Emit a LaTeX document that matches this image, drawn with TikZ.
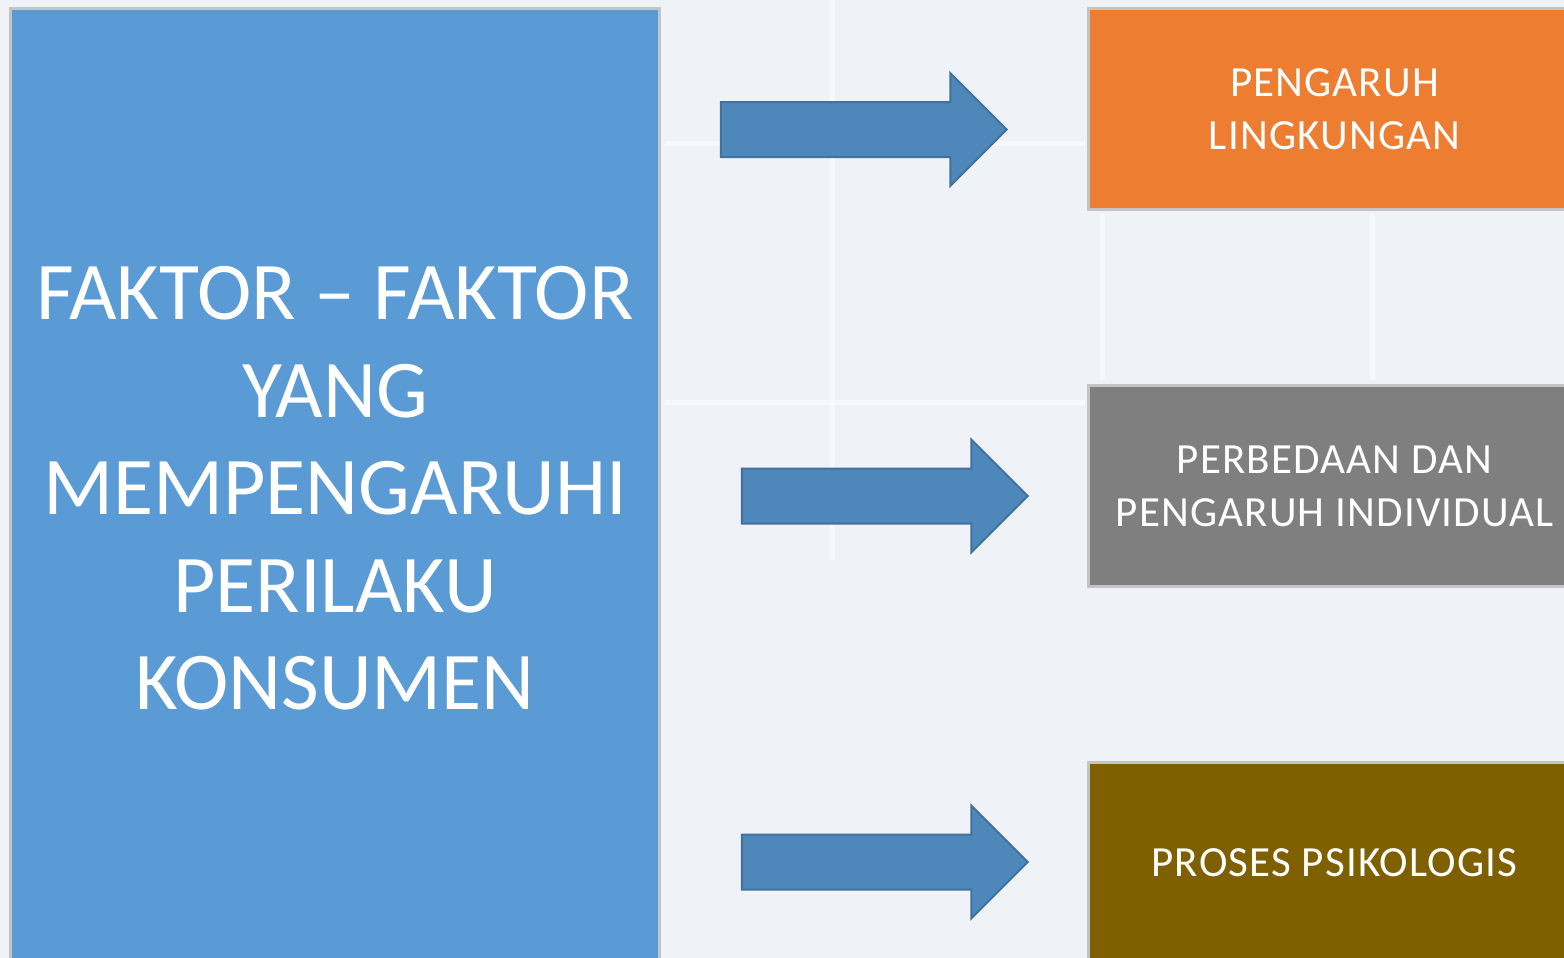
\documentclass[tikz,border=0pt]{standalone}
\usepackage{fontspec}
\setmainfont{Carlito}
\usetikzlibrary{positioning, shapes.arrows}
\definecolor{mainblue}{HTML}{5B9BD5}
\definecolor{envorange}{HTML}{ED7D31}
\definecolor{indivgray}{HTML}{7F7F7F}
\definecolor{psyolive}{HTML}{7F6000}
\definecolor{arrowblue}{HTML}{4E87BA}
\definecolor{arrowedge}{HTML}{41719C}
\definecolor{boxedge}{HTML}{C4C4C4}
\definecolor{bgpaper}{HTML}{EFF2F7}

\begin{document}
\begin{tikzpicture}[x=1pt, y=-1pt, node distance=173pt,
  factorbox/.style={draw=boxedge, line width=3pt, text=white, align=center,
    minimum width=492pt, minimum height=201pt, inner sep=0pt,
    font=\fontsize{43}{53}\selectfont\addfontfeatures{LetterSpace=2.7}},
  bigarrow/.style={single arrow, draw=arrowedge, line width=2pt, fill=arrowblue,
    minimum height=286pt, minimum width=112pt, single arrow head extend=29pt,
    text height=53pt, text depth=0pt, inner sep=0pt}]
  \clip (0,0) rectangle (1564,958);
  \fill[bgpaper] (0,0) rectangle (1564,958);
  % faint tiles behind
  \draw[white, line width=5pt, opacity=.5] (832,0) -- (832,560);
  \draw[white, line width=5pt, opacity=.5] (665,143) -- (1085,143);
  \draw[white, line width=5pt, opacity=.5] (665,402) -- (1085,402);
  \draw[white, line width=5pt, opacity=.5] (1372,215) -- (1372,380);
  \draw[white, line width=5pt, opacity=.5] (1102,215) -- (1102,380);

  \node[draw=boxedge, line width=3pt, fill=mainblue, text=white, align=center,
    minimum width=649pt, minimum height=960pt, inner sep=0pt, anchor=north west,
    font=\fontsize{82}{97.5}\selectfont] (factors) at (9,7)
    {FAKTOR -- FAKTOR\\YANG\\MEMPENGARUHI\\PERILAKU\\KONSUMEN};
  \node[factorbox, fill=envorange, anchor=north west] (env) at (1087,7) {PENGARUH\\LINGKUNGAN};
  \node[factorbox, fill=indivgray, below=of env] (indiv) {PERBEDAAN DAN\\PENGARUH INDIVIDUAL};
  \node[factorbox, fill=psyolive, below=of indiv] (psy) {PROSES PSIKOLOGIS};

  \node[bigarrow] (to env) at (850,129.5) {};
  \node[bigarrow] (to indiv) at (871,496) {};
  \node[bigarrow] (to psy) at (871,862) {};
\end{tikzpicture}
\end{document}
